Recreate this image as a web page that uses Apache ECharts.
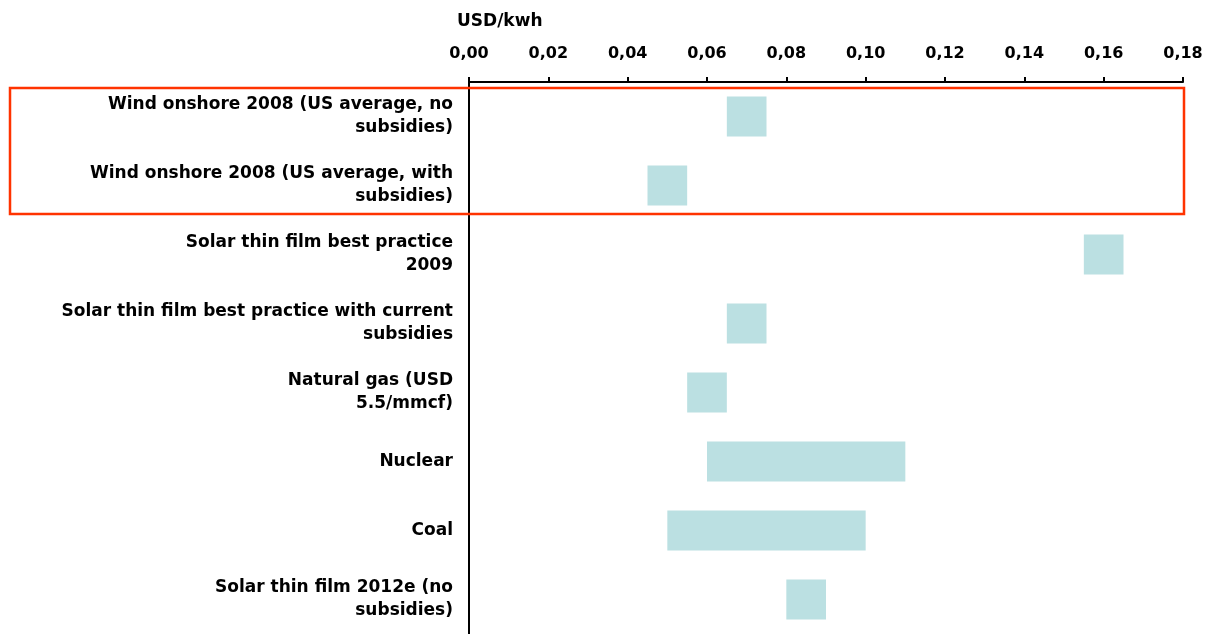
<!DOCTYPE html>
<html>
<head>
<meta charset="utf-8">
<script src="https://cdn.jsdelivr.net/npm/echarts@6/dist/echarts.min.js"></script>
<style>
html,body{margin:0;padding:0;background:#fff;}
#chart{width:1218px;height:634px;}
</style>
</head>
<body>
<div id="chart"></div>
<script>
var categories = [
  'Wind onshore 2008 (US average, no\nsubsidies)',
  'Wind onshore 2008 (US average, with\nsubsidies)',
  'Solar thin film best practice\n2009',
  'Solar thin film best practice with current\nsubsidies',
  'Natural gas (USD\n5.5/mmcf)',
  'Nuclear',
  'Coal',
  'Solar thin film 2012e (no\nsubsidies)'
];
var lowValues  = [0.065, 0.045, 0.155, 0.065, 0.055, 0.060, 0.050, 0.080];
var highValues = [0.075, 0.055, 0.165, 0.075, 0.065, 0.110, 0.100, 0.090];
var axisUnit = 'USD/kwh';

var rangeValues = highValues.map(function (h, i) { return +(h - lowValues[i]).toFixed(4); });

var chart = echarts.init(document.getElementById('chart'));
var fontFam = '"DejaVu Sans", sans-serif';
chart.setOption({
  animation: false,
  backgroundColor: '#ffffff',
  title: {
    text: axisUnit,
    left: 452, top: 8,
    textStyle: { fontFamily: fontFam, fontWeight: 'bold', fontSize: 17, color: '#000' }
  },
  grid: { left: 469, right: 35, top: 82, height: 556 },
  xAxis: {
    type: 'value',
    position: 'top',
    min: 0, max: 0.18, interval: 0.02,
    splitLine: { show: false },
    axisLine: { show: true, lineStyle: { color: '#000', width: 2 } },
    axisTick: { show: true, length: 5, lineStyle: { color: '#000', width: 2 } },
    axisLabel: {
      margin: 20,
      fontFamily: fontFam, fontWeight: 'bold', fontSize: 16, color: '#000',
      formatter: function (v) { return v.toFixed(2).replace('.', ','); }
    }
  },
  yAxis: {
    type: 'category',
    data: categories,
    inverse: true,
    axisLine: { show: true, lineStyle: { color: '#000', width: 2 } },
    axisTick: { show: false },
    axisLabel: {
      margin: 16,
      align: 'right',
      fontFamily: fontFam, fontWeight: 'bold', fontSize: 17, color: '#000',
      lineHeight: 23
    }
  },
  series: [
    {
      type: 'bar', stack: 'r', data: lowValues, barWidth: 40,
      itemStyle: { color: 'transparent' }, silent: true
    },
    {
      type: 'bar', stack: 'r', data: rangeValues, barWidth: 40,
      itemStyle: { color: '#bbe0e2' }
    }
  ],
  graphic: [
    {
      type: 'rect',
      shape: { x: 10, y: 88, width: 1174, height: 126 },
      style: { fill: 'none', stroke: '#ff3300', lineWidth: 2.5 },
      z: 100
    }
  ]
});
</script>
</body>
</html>
